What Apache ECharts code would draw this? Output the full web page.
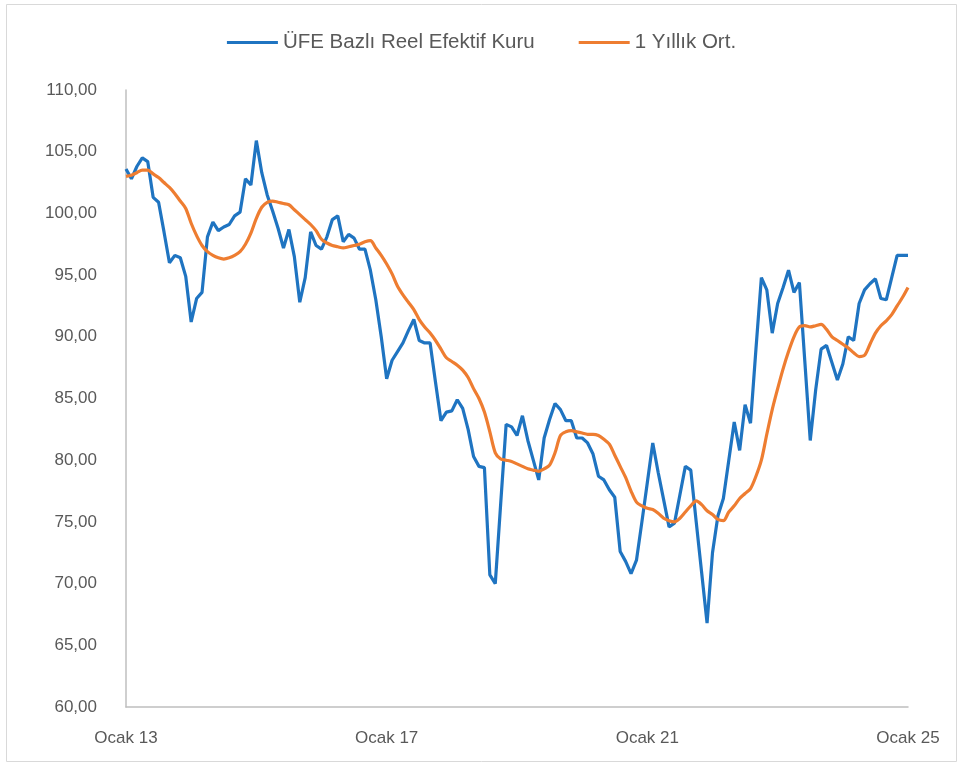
<!DOCTYPE html>
<html>
<head>
<meta charset="utf-8">
<script src="https://cdn.jsdelivr.net/npm/echarts@6/dist/echarts.min.js"></script>
<style>
  html, body { margin: 0; padding: 0; background: #fff; }
  #chart { width: 963px; height: 768px; }
</style>
</head>
<body>
<div id="chart"></div>
<script>
// aylar (Ocak 2013 - Ocak 2025, aylık)
const MONTHS = ['Ocak', 'Şubat', 'Mart', 'Nisan', 'Mayıs', 'Haziran', 'Temmuz', 'Ağustos', 'Eylül', 'Ekim', 'Kasım', 'Aralık'];
const START_YEAR = 2013;
const N_POINTS = 145;

const categories = [];
for (let i = 0; i < N_POINTS; i++) {
  const y = START_YEAR + Math.floor(i / 12);
  categories.push(MONTHS[i % 12] + ' ' + String(y).slice(2));
}

const reelKur = [
  103.6, 102.8, 103.8, 104.5, 104.2, 101.3, 100.9, 98.5, 96.0, 96.6, 96.4, 94.9,
  91.2, 93.1, 93.6, 98.1, 99.3, 98.6, 98.9, 99.1, 99.8, 100.1, 102.8, 102.3,
  105.9, 103.3, 101.5, 100.2, 98.8, 97.2, 98.7, 96.5, 92.8, 94.8, 98.5, 97.4,
  97.1, 98.1, 99.5, 99.8, 97.7, 98.3, 98.0, 97.1, 97.1, 95.4, 93.0, 90.0,
  86.6, 88.1, 88.8, 89.5, 90.5, 91.4, 89.7, 89.5, 89.5, 86.3, 83.2, 83.9,
  84.0, 84.9, 84.2, 82.5, 80.3, 79.5, 79.4, 70.7, 70.0, 76.5, 82.9, 82.7,
  82.0, 83.6, 81.6, 80.0, 78.4, 81.8, 83.3, 84.6, 84.1, 83.2, 83.2, 81.8,
  81.8, 81.4, 80.5, 78.7, 78.4, 77.6, 77.0, 72.6, 71.8, 70.8, 71.9, 75.0,
  78.2, 81.4, 79.0, 76.8, 74.6, 74.9, 77.2, 79.5, 79.2, 75.0, 70.9, 66.8,
  72.5, 75.5, 76.9, 80.0, 83.1, 80.8, 84.5, 83.0, 89.0, 94.8, 93.8, 90.3,
  92.7, 94.0, 95.4, 93.6, 94.4, 88.0, 81.6, 85.7, 89.0, 89.3, 87.9, 86.5,
  87.8, 90.0, 89.7, 92.7, 93.8, 94.3, 94.7, 93.1, 93.0, 94.8, 96.6, 96.6,
  96.6
];

const yillikOrt = [
  103.0, 103.1, 103.3, 103.5, 103.5, 103.2, 102.9, 102.5, 102.1, 101.6, 101.0, 100.4,
  99.2, 98.2, 97.4, 96.9, 96.6, 96.4, 96.3, 96.4, 96.6, 96.9, 97.5, 98.4,
  99.6, 100.5, 100.9, 101.0, 100.9, 100.8, 100.7, 100.3, 99.9, 99.5, 99.1, 98.6,
  97.9, 97.6, 97.4, 97.3, 97.2, 97.3, 97.4, 97.5, 97.7, 97.8, 97.2, 96.6,
  95.9, 95.1, 94.1, 93.4, 92.8, 92.2, 91.4, 90.8, 90.3, 89.7, 89.0, 88.3,
  88.0, 87.7, 87.3, 86.7, 85.8, 85.0, 83.9, 82.3, 80.6, 80.1, 80.0, 79.9,
  79.7, 79.5, 79.3, 79.2, 79.1, 79.3, 79.6, 80.6, 82.0, 82.3, 82.4, 82.3,
  82.2, 82.1, 82.1, 82.0, 81.7, 81.3, 80.4, 79.5, 78.6, 77.5, 76.6, 76.3,
  76.1, 76.0, 75.7, 75.3, 75.1, 75.0, 75.3, 75.8, 76.3, 76.7, 76.4, 75.9,
  75.6, 75.2, 75.1, 75.8, 76.3, 76.9, 77.3, 77.7, 78.7, 80.0, 82.1, 84.1,
  85.8, 87.4, 88.8, 90.0, 90.8, 90.9, 90.8, 90.9, 91.0, 90.6, 90.0, 89.7,
  89.4, 89.1, 88.7, 88.4, 88.5, 89.4, 90.3, 90.9, 91.3, 91.8, 92.5, 93.2,
  94.0
];

const SERIES_NAMES = ['ÜFE Bazlı Reel Efektif Kuru', '1 Yıllık Ort.'];
const COLORS = ['#1f74c1', '#ee7d31'];
const TEXT = '#595959';
const FONT = '"Liberation Sans", Arial, sans-serif';

const chart = echarts.init(document.getElementById('chart'), null, { renderer: 'canvas' });

chart.setOption({
  backgroundColor: '#fff',
  animation: false,
  graphic: [{
    type: 'rect',
    shape: { x: 6.5, y: 4.5, width: 950, height: 757 },
    style: { fill: 'none', stroke: '#d9d9d9', lineWidth: 1 },
    silent: true
  }],
  legend: {
    top: 27,
    left: 'center',
    icon: 'rect',
    itemWidth: 51,
    itemHeight: 3,
    itemGap: 44,
    textStyle: { color: TEXT, fontSize: 20.5, fontFamily: FONT },
    data: SERIES_NAMES
  },
  grid: { left: 126, right: 55, top: 90, bottom: 61 },
  xAxis: {
    type: 'category',
    data: categories,
    boundaryGap: false,
    axisLine: { lineStyle: { color: '#bfbfbf', width: 1.5 } },
    axisTick: { show: false },
    axisLabel: {
      interval: 47,
      margin: 23,
      color: TEXT,
      fontSize: 17,
      fontFamily: FONT
    },
    splitLine: { show: false }
  },
  yAxis: {
    type: 'value',
    min: 60,
    max: 110,
    interval: 5,
    axisLine: { show: true, lineStyle: { color: '#bfbfbf', width: 1.5 } },
    axisTick: { show: false },
    splitLine: { show: false },
    axisLabel: {
      margin: 29,
      color: TEXT,
      fontSize: 17,
      fontFamily: FONT,
      formatter: v => v.toFixed(2).replace('.', ',')
    }
  },
  series: [
    {
      name: SERIES_NAMES[0],
      type: 'line',
      data: reelKur,
      symbol: 'none',
      lineStyle: { color: COLORS[0], width: 3.2 },
      itemStyle: { color: COLORS[0] },
      z: 2
    },
    {
      name: SERIES_NAMES[1],
      type: 'line',
      data: yillikOrt,
      smooth: 0.3,
      symbol: 'none',
      lineStyle: { color: COLORS[1], width: 3.2 },
      itemStyle: { color: COLORS[1] },
      z: 3
    }
  ]
});
</script>
</body>
</html>
